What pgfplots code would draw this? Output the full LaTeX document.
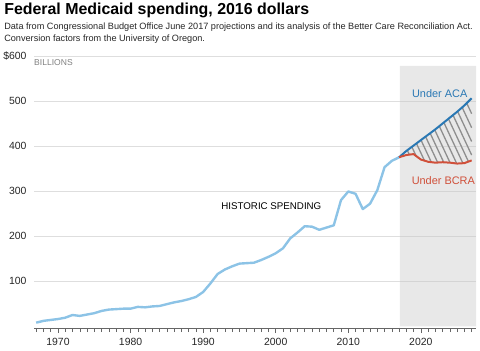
\documentclass[border=0pt]{standalone}
\usepackage{fontspec}
\setmainfont{Liberation Sans}
\usepackage{pgfplots}
\pgfplotsset{compat=1.18}
\definecolor{histblue}{HTML}{8CC3E6}
\definecolor{acablue}{HTML}{2A78B4}
\definecolor{bcrared}{HTML}{D0503A}
\definecolor{shade}{HTML}{E8E8E8}
\definecolor{gridgray}{HTML}{DEDEDE}
\definecolor{gridshade}{HTML}{D4D4D4}
\definecolor{hatch}{HTML}{8E8E8E}
\begin{document}
\begin{tikzpicture}
\path (0,0) rectangle (480bp,351bp);
\node[anchor=north west, font=\bfseries\fontsize{16}{18}\selectfont, inner sep=0] at (3bp,348bp) {Federal Medicaid spending, 2016 dollars};
\node[anchor=north west, align=left, font=\fontsize{9.2}{12.3}\selectfont, text=black!85, inner sep=0] at (3bp,328bp) {Data from Congressional Budget Office June 2017 projections and its analysis of the Better Care Reconciliation Act.\\Conversion factors from the University of Oregon.};
\begin{axis}[
  at={(33bp,22bp)}, anchor=south west, scale only axis,
  width=443bp, height=273bp,
  xmin=1966.7, xmax=2027.6, ymin=-4.4, ymax=600,
  axis lines*=left, axis line style={-},
  x axis line style={draw=black!60, line width=0.6pt},
  y axis line style={draw=none},
  ytick={100,200,300,400,500,600},
  yticklabels={100,200,300,400,500,\$600},
  ytick style={draw=none},
  xtick={1970,1980,1990,2000,2010,2020},
  xticklabels={1970,1980,1990,2000,2010,2020},
  minor xtick={1967,...,2027},
  tick align=outside,
  major tick length=5bp, minor tick length=4bp,
  xtick style={draw=black!60, line width=0.5pt},
  ymajorgrids, grid style={gridgray, line width=0.6pt},
  tick label style={font=\fontsize{10.5}{12}\selectfont, text=black!85},
  yticklabel style={xshift=1bp},
  xticklabel style={yshift=-1bp},
  clip=false,
]
\addplot[fill=shade, draw=none] coordinates {(2017.1,-4.4) (2017.1,578) (2027.6,578) (2027.6,-4.4)} \closedcycle;
\addplot[gridshade, line width=0.6pt] coordinates {(2017.1,100) (2027.6,100)};
\addplot[gridshade, line width=0.6pt] coordinates {(2017.1,200) (2027.6,200)};
\addplot[gridshade, line width=0.6pt] coordinates {(2017.1,300) (2027.6,300)};
\addplot[gridshade, line width=0.6pt] coordinates {(2017.1,400) (2027.6,400)};
\addplot[gridshade, line width=0.6pt] coordinates {(2017.1,500) (2027.6,500)};

\addplot[histblue, line width=2.4pt, line join=round] coordinates {
(1967,8) (1968,12) (1969,14) (1970,16) (1971,19) (1972,25) (1973,23) (1974,26)
(1975,29) (1976,34) (1977,37) (1978,38) (1979,39) (1980,39) (1981,43) (1982,42)
(1983,44) (1984,45) (1985,49) (1986,53) (1987,56) (1988,60) (1989,65) (1990,76)
(1991,95) (1992,116) (1993,126) (1994,133) (1995,139) (1996,140) (1997,141)
(1998,147) (1999,154) (2000,162) (2001,173) (2002,195) (2003,208) (2004,222)
(2005,221) (2006,214) (2007,219) (2008,224) (2009,280) (2010,299) (2011,294)
(2012,260) (2013,272) (2014,302) (2015,353) (2016,367) (2017,375)};

% hatching between the two projections
\pgfplotsset{every axis plot/.append style={}}
\addplot[hatch, line width=1.3pt] coordinates {(2017.50,382.0) (2017.61,378.1)};
\addplot[hatch, line width=1.3pt] coordinates {(2018.13,390.6) (2018.41,380.8)};
\addplot[hatch, line width=1.3pt] coordinates {(2018.76,398.1) (2019.35,377.8)};
\addplot[hatch, line width=1.3pt] coordinates {(2019.39,405.7) (2020.50,367.5)};
\addplot[hatch, line width=1.3pt] coordinates {(2020.02,413.2) (2021.44,364.1)};
\addplot[hatch, line width=1.3pt] coordinates {(2020.65,420.8) (2022.32,363.3)};
\addplot[hatch, line width=1.3pt] coordinates {(2021.28,428.4) (2023.15,363.9)};
\addplot[hatch, line width=1.3pt] coordinates {(2021.91,435.9) (2024.02,363.0)};
\addplot[hatch, line width=1.3pt] coordinates {(2022.54,444.0) (2024.94,361.1)};
\addplot[hatch, line width=1.3pt] coordinates {(2023.17,452.2) (2025.79,361.8)};
\addplot[hatch, line width=1.3pt] coordinates {(2023.80,460.4) (2026.56,365.3)};
\addplot[hatch, line width=1.3pt] coordinates {(2024.43,468.6) (2027.00,379.9)};
\addplot[hatch, line width=1.3pt] coordinates {(2025.06,476.8) (2027.00,409.9)};
\addplot[hatch, line width=1.3pt] coordinates {(2025.69,485.7) (2027.00,440.5)};
\addplot[hatch, line width=1.3pt] coordinates {(2026.32,495.1) (2027.00,471.7)};

\addplot[acablue, line width=2pt] coordinates {
(2017,375) (2018,389) (2019,401) (2020,413) (2021,425) (2022,437) (2023,450)
(2024,463) (2025,476) (2026,490) (2027,506)};
\addplot[bcrared, line width=2pt, line join=round] coordinates {
(2017,375) (2018,380) (2019,382) (2020,370) (2021,365) (2022,363) (2023,364)
(2024,363) (2025,361) (2026,362) (2027,368)};

\node[anchor=north west, font=\fontsize{8.6}{10}\selectfont, text=black!50, inner sep=0] at (axis cs:1966.7,592) {BILLIONS};
\node[font=\fontsize{9.8}{11}\selectfont] at (axis cs:1999.4,267) {HISTORIC SPENDING};
\node[font=\fontsize{11}{13}\selectfont, text=acablue] at (axis cs:2022.6,516) {Under ACA};
\node[font=\fontsize{11}{13}\selectfont, text=bcrared] at (axis cs:2023.1,324) {Under BCRA};
\end{axis}
\end{tikzpicture}
\end{document}
